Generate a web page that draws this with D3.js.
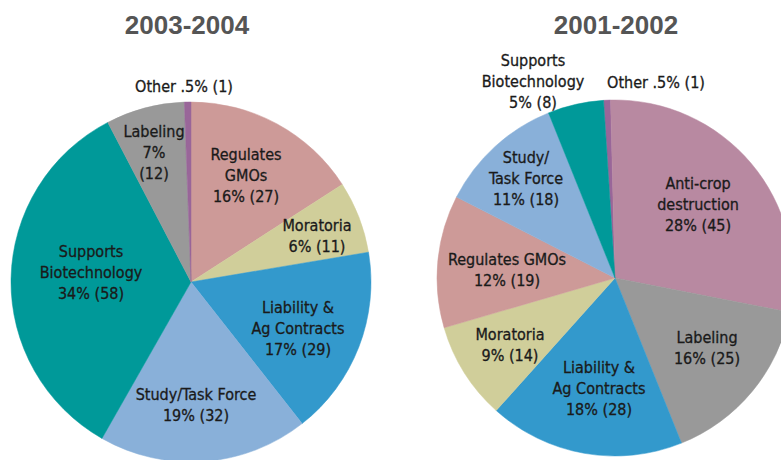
<!DOCTYPE html>
<html><head><meta charset="utf-8">
<script src="https://cdn.jsdelivr.net/npm/d3@7"></script>
<style>
html,body{margin:0;padding:0;background:#fff;}
svg{display:block;}
.lbl{font-family:"DejaVu Sans Condensed","DejaVu Sans",sans-serif;font-stretch:condensed;font-size:16px;fill:#1a1a1a;stroke:#1a1a1a;stroke-width:0.3px;}
.ttl{font-family:"Liberation Sans",Arial,sans-serif;font-weight:bold;font-size:26px;fill:#555;}
</style></head>
<body>
<svg id="c" width="781" height="460"></svg>
<script>
// ---- data ----
const leftTitle = "2003-2004";
const leftCats = ["Regulates GMOs","Moratoria","Liability & Ag Contracts","Study/Task Force","Supports Biotechnology","Labeling","Other"];
const leftValues = [27, 11, 29, 32, 58, 12, 1];
const leftLabels = [
  ["Regulates","GMOs","16% (27)"],
  ["Moratoria","6% (11)"],
  ["Liability &","Ag Contracts","17% (29)"],
  ["Study/Task Force","19% (32)"],
  ["Supports","Biotechnology","34% (58)"],
  ["Labeling","7%","(12)"],
  ["Other .5% (1)"]
];
const rightTitle = "2001-2002";
const rightCats = ["Other","Anti-crop destruction","Labeling","Liability & Ag Contracts","Moratoria","Regulates GMOs","Study/Task Force","Supports Biotechnology"];
const rightValues = [1, 45, 25, 28, 14, 19, 18, 8];
const rightLabels = [
  ["Other .5% (1)"],
  ["Anti-crop","destruction","28% (45)"],
  ["Labeling","16% (25)"],
  ["Liability &","Ag Contracts","18% (28)"],
  ["Moratoria","9% (14)"],
  ["Regulates GMOs","12% (19)"],
  ["Study/","Task Force","11% (18)"],
  ["Supports","Biotechnology","5% (8)"]
];

// ---- styling / layout (not data) ----
const colorMap = {
  "Regulates GMOs":"#cd9a98",
  "Moratoria":"#d0ce9a",
  "Liability & Ag Contracts":"#3399cc",
  "Study/Task Force":"#89b0d9",
  "Supports Biotechnology":"#009999",
  "Labeling":"#999999",
  "Other":"#996699",
  "Anti-crop destruction":"#b889a1"
};
const color = d3.scaleOrdinal().domain(Object.keys(colorMap)).range(Object.values(colorMap));

// label anchor positions (first baseline) relative to pie centre
const leftLabelPos = [[55,-122],[126,-51],[107,31],[5,118],[-100,-25],[-37,-145],[-7,-190]];
const rightLabelPos = [[41,-190],[83,-89],[92,65],[-16,95],[-105,62],[-108,-13],[-89,-115],[-82,-212]];

const svg = d3.select("#c");
const lineH = 21;

function drawPie(cx, cy, r, startDeg, cats, values, labels, pos, title, titleX) {
  const g = svg.append("g").attr("transform", `translate(${cx},${cy})`);
  const pie = d3.pie().sort(null).value(d => d)
    .startAngle(startDeg*Math.PI/180).endAngle(startDeg*Math.PI/180 + 2*Math.PI);
  const arc = d3.arc().innerRadius(0).outerRadius(r);
  const arcs = pie(values);
  g.selectAll("path").data(arcs).join("path")
    .attr("d", arc)
    .attr("fill", (d,i) => color(cats[i]))
    .attr("stroke", (d,i) => color(cats[i]))
    .attr("stroke-width", 0.5);
  const t = g.selectAll("text.lbl").data(labels).join("text")
    .attr("class","lbl")
    .attr("text-anchor","middle")
    .attr("transform", (d,i) => `translate(${pos[i][0]},${pos[i][1]})`);
  t.selectAll("tspan").data(d => d).join("tspan")
    .attr("x", 0).attr("y", (d,j) => j*lineH).text(d => d);
  svg.append("text").attr("class","ttl").attr("text-anchor","middle")
    .attr("x", titleX).attr("y", 34).text(title);
}

drawPie(191, 282, 180, 0, leftCats, leftValues, leftLabels, leftLabelPos, leftTitle, 187);
drawPie(615, 278, 178, -3.7, rightCats, rightValues, rightLabels, rightLabelPos, rightTitle, 616);
</script>
</body></html>
